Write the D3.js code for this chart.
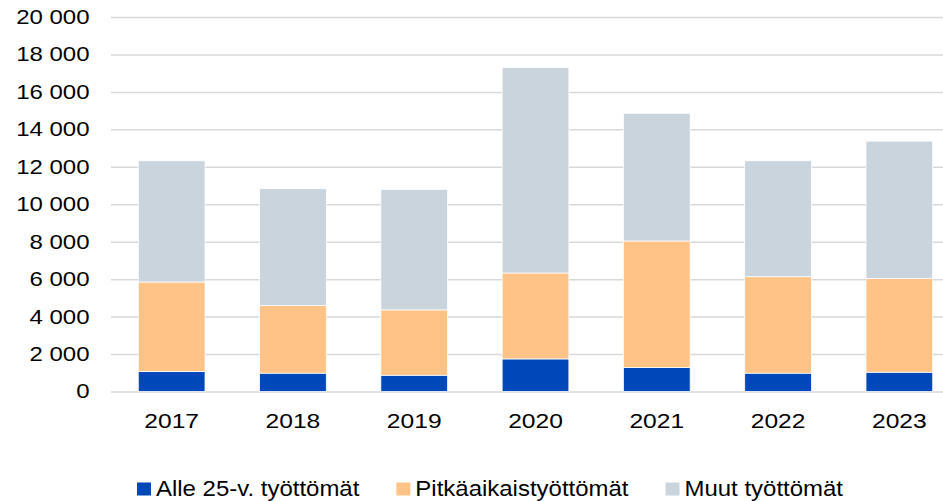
<!DOCTYPE html>
<html>
<head>
<meta charset="utf-8">
<script src="https://cdn.jsdelivr.net/npm/d3@7"></script>
<style>
  body { margin: 0; background: #fff; }
  text { font-family: "Liberation Sans", Arial, sans-serif; fill: #000; }
</style>
</head>
<body>
<script>
// data
var years = ["2017", "2018", "2019", "2020", "2021", "2022", "2023"];
var alle25 = [1070, 980, 870, 1740, 1280, 980, 1030];
var pitkaaikais = [4780, 3620, 3490, 4590, 6760, 5150, 5000];
var muut = [6470, 6230, 6430, 10970, 6820, 6190, 7340];
var seriesNames = ["Alle 25-v. työttömät", "Pitkäaikaistyöttömät", "Muut työttömät"];
var seriesColors = ["#0047ba", "#ffc388", "#cad4dd"];
var yTicks = [0, 2000, 4000, 6000, 8000, 10000, 12000, 14000, 16000, 18000, 20000];

var margins = { top: 17, left: 111, right: -17, bottom: 109.5 };
var width = 943, height = 501;
var sx = 1.2;   // axis text in the picture is stretched sideways
var lsx = 1.09; // legend text a bit less so

var rows = years.map(function (y, i) {
    return { year: y, a: alle25[i], p: pitkaaikais[i], m: muut[i] };
});

var svg = d3.select("body").append("svg")
    .attr("width", width)
    .attr("height", height);

var x = d3.scaleBand()
    .domain(years)
    .range([margins.left, width - margins.right])
    .paddingInner(0.45)
    .paddingOuter(0.225);

var y = d3.scaleLinear()
    .domain([0, 20000])
    .range([height - margins.bottom, margins.top]);

var fi = d3.formatLocale({ decimal: ",", thousands: "\u00a0", grouping: [3], currency: ["", ""] });

// gridlines + y labels
var yAxis = svg.append("g")
    .attr("transform", "translate(" + margins.left + ",0)")
    .call(d3.axisLeft(y).tickValues(yTicks).tickFormat(fi.format(",d"))
        .tickSize(-(width - margins.left)).tickPadding(0));
yAxis.select(".domain").remove();
yAxis.selectAll("line").attr("stroke", "#d9d9d9").attr("stroke-width", 1.5);
yAxis.selectAll("text")
    .attr("x", -21.5 / sx)
    .attr("transform", "scale(" + sx + ",1)")
    .style("font-size", "20px");

// stacked bars
var stack = d3.stack().keys(["a", "p", "m"]);
var layers = stack(rows);

svg.append("g").selectAll("g")
    .data(layers)
    .join("g")
    .attr("fill", function (d, i) { return seriesColors[i]; })
    .selectAll("rect")
    .data(function (d) { return d; })
    .join("rect")
    .attr("x", function (d) { return x(d.data.year); })
    .attr("width", x.bandwidth())
    .attr("y", function (d) { return y(d[1]); })
    .attr("height", function (d) { return y(d[0]) - y(d[1]); })
    .attr("stroke", "#ffffff")
    .attr("stroke-width", 0.75);

// x labels
var xAxis = svg.append("g")
    .attr("transform", "translate(0," + y(0) + ")")
    .call(d3.axisBottom(x).tickSize(0));
xAxis.select(".domain").remove();
xAxis.selectAll("text")
    .attr("y", 36.8)
    .attr("dy", 0)
    .attr("transform", "scale(" + sx + ",1)")
    .style("font-size", "20.5px");

// legend
var legend = svg.append("g").attr("transform", "translate(137,495.5)");
var lx = 0;
seriesNames.forEach(function (name, i) {
    var item = legend.append("g").attr("transform", "translate(" + lx + ",0)");
    item.append("rect")
        .attr("x", 0).attr("y", -13)
        .attr("width", 14).attr("height", 13)
        .attr("fill", seriesColors[i]);
    var t = item.append("text")
        .attr("x", 19 / lsx)
        .attr("transform", "scale(" + lsx + ",1)")
        .style("font-size", "22px")
        .text(name);
    lx += 19 + t.node().getComputedTextLength() * lsx + 37;
});
</script>
</body>
</html>
